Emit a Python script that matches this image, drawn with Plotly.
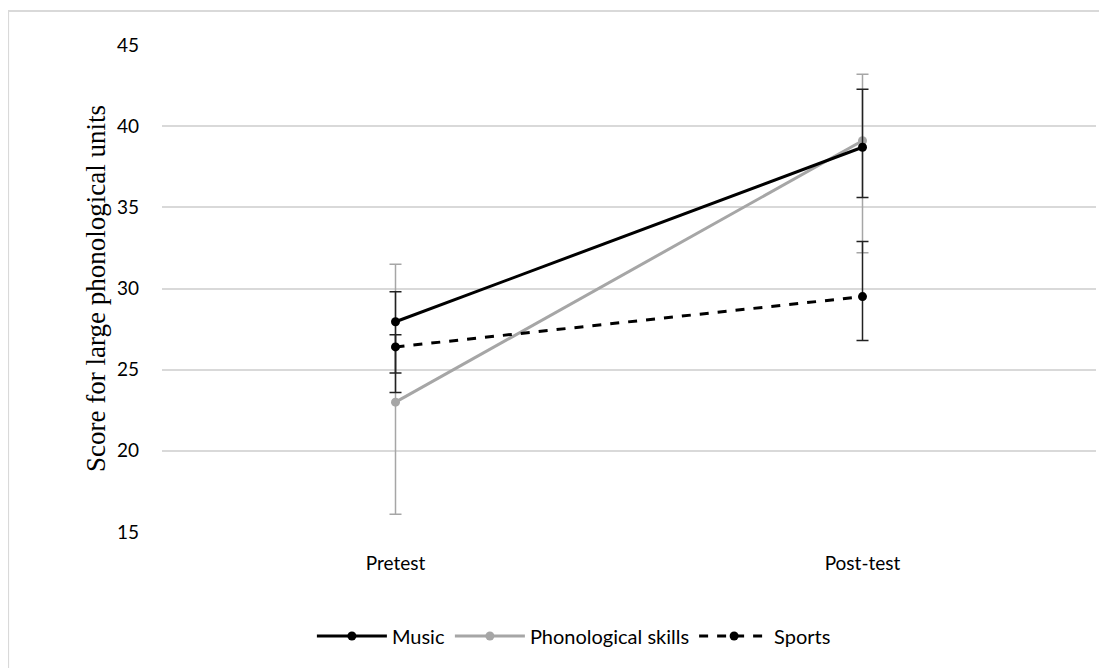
import plotly.graph_objects as go

categories = ["Pretest", "Post-test"]

music = [27.95, 38.7]
music_err_plus = [1.85, 3.57]
music_err_minus = [3.15, 3.1]

phono = [23.0, 39.1]
phono_err_plus = [8.5, 4.1]
phono_err_minus = [6.9, 6.9]

sports = [26.4, 29.5]
sports_err_plus = [0.75, 3.4]
sports_err_minus = [2.8, 2.7]

y_ticks = [15, 20, 25, 30, 35, 40, 45]

fig = go.Figure()

fig.add_trace(go.Scatter(
    x=categories, y=phono, name="Phonological skills", mode="lines+markers",
    line=dict(color="#a6a6a6", width=3), marker=dict(size=9, color="#a6a6a6"),
    error_y=dict(type="data", symmetric=False, array=phono_err_plus,
                 arrayminus=phono_err_minus, color="#a6a6a6", thickness=1.5, width=6),
    legendrank=2,
))
fig.add_trace(go.Scatter(
    x=categories, y=music, name="Music", mode="lines+markers",
    line=dict(color="#000000", width=3), marker=dict(size=9, color="#000000"),
    error_y=dict(type="data", symmetric=False, array=music_err_plus,
                 arrayminus=music_err_minus, color="#222222", thickness=1.5, width=6),
    legendrank=1,
))
fig.add_trace(go.Scatter(
    x=categories, y=sports, name="Sports", mode="lines+markers",
    line=dict(color="#000000", width=3, dash="dash"), marker=dict(size=9, color="#000000"),
    error_y=dict(type="data", symmetric=False, array=sports_err_plus,
                 arrayminus=sports_err_minus, color="#222222", thickness=1.5, width=6),
    legendrank=3,
))

# outer chart border
fig.add_shape(type="rect", xref="paper", yref="paper",
              x0=-0.1648, x1=1.03, y0=-0.32, y1=1.0698,
              line=dict(color="#d9d9d9", width=2), layer="below")

fig.update_layout(
    width=1107, height=668,
    margin=dict(l=154, r=18.5, t=37, b=144, autoexpand=False),
    paper_bgcolor="white", plot_bgcolor="white",
    font=dict(family="Lato, Open Sans, sans-serif", size=16, color="#111111"),
    showlegend=True,
    legend=dict(orientation="h", x=0.441, xanchor="center", y=-0.2136, yanchor="middle",
                itemwidth=70, font=dict(size=20, color="#000000")),
    xaxis=dict(type="category", range=[-0.5, 1.5], showgrid=False, showline=False,
               zeroline=False, ticks="", tickfont=dict(size=19, color="#000000"),
               ticklabelstandoff=18),
    yaxis=dict(range=[15, 45], tickvals=y_ticks, showgrid=True, gridcolor="#d9d9d9",
               gridwidth=1.5, zeroline=False, showline=False, ticks="",
               tickfont=dict(size=19, color="#000000"), ticklabelstandoff=22,
               title=dict(text="Score for large phonological units",
                          font=dict(family="Liberation Serif, Times New Roman, serif",
                                    size=27, color="#000000"),
                          standoff=3)),
)

fig.write_html("out.html")
